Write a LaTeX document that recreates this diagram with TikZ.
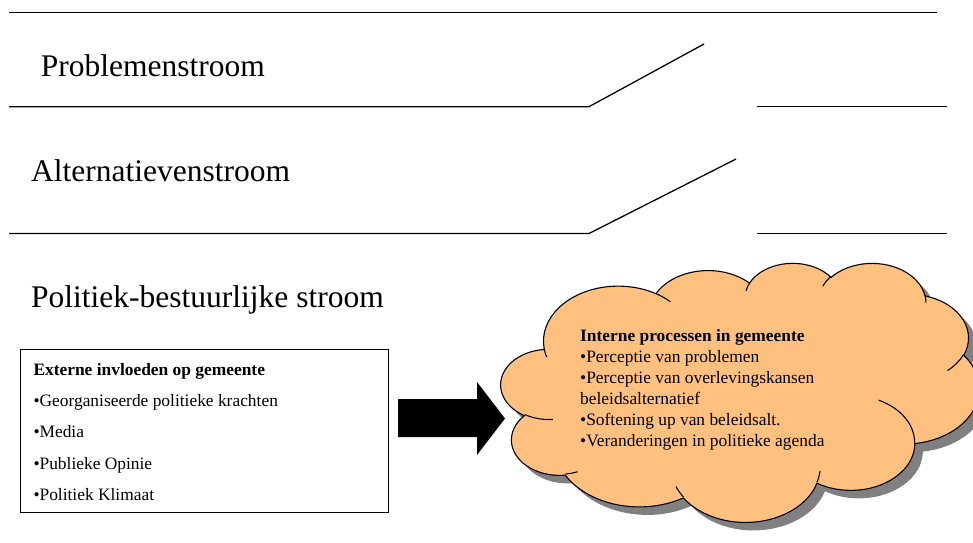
\documentclass[tikz,border=0pt]{standalone}
\usepackage{fontspec}
\setmainfont{Liberation Serif}
\usetikzlibrary{shadows}
\begin{document}
\begin{tikzpicture}[x=1pt,y=-1pt,
  streamline/.style={line width=1.3pt, line join=miter},
  streamtitle/.style={anchor=base west, inner sep=0pt, font=\fontsize{31.5}{36}\selectfont},
  itemtext/.style={anchor=base west, inner sep=0pt, font=\fontsize{17.4}{21}\selectfont},
  headtext/.style={anchor=base west, inner sep=0pt, font=\fontsize{17.4}{21}\selectfont\bfseries},
  cloudline/.style={line width=1.1pt},
  cloudfill/.style={cloudline, fill={rgb,255:red,255;green,192;blue,128},
    drop shadow={shadow xshift=8pt, shadow yshift=-8pt, fill=black!50, opacity=1}},
]
\useasboundingbox (0,0) rectangle (973,542);

% the three streams, each one closed off by a switch
\draw[streamline] (9,12.7) -- (937,12.7);
\node[streamtitle] (probl) at (40.7,76) {Problemenstroom};
\draw[streamline] (9,106.7) -- (589,106.7) -- (704,44);
\draw[streamline] (757,106.7) -- (947,106.7);
\node[streamtitle] (alter) at (31,181.7) {Alternatievenstroom};
\draw[streamline] (9,233.5) -- (589,233.5) -- (736,159);
\draw[streamline] (757,233.5) -- (947,233.5);
\node[streamtitle] (polit) at (31,307) {Politiek-bestuurlijke stroom};

% external influences
\node[draw, line width=1.1pt, inner sep=0pt, anchor=north west,
      minimum width=368pt, minimum height=163pt] (ext) at (20,349) {};
\node[headtext] (exthead) at (33.3,375) {Externe invloeden op gemeente};
\node[itemtext] (ext1) at (33.3,406) {•Georganiseerde politieke krachten};
\node[itemtext] (ext2) at (33.3,437.5) {•Media};
\node[itemtext] (ext3) at (33.3,469) {•Publieke Opinie};
\node[itemtext] (ext4) at (33.3,500.5) {•Politiek Klimaat};

% block arrow
\fill (398,399) -- (477,399) -- (477,382) -- (505,418.5) -- (477,455) -- (477,437) -- (398,437) -- cycle;

% cloud of internal processes (arcs given with visual angles, converted to parametric ones)
\begin{scope}[shift={(501,262.5)}, x=1.1065pt, y=-0.5995pt]
  \draw[cloudfill] (39.00,143.70)
    \foreach \wr/\hr/\st/\sw [evaluate={\sw as \ts using atan2(\wr*sin(\st),\hr*cos(\st))},
        evaluate={\sw as \dd using mod(atan2(\wr*sin(\st+\sw),\hr*cos(\st+\sw))-\ts+720,360)}]
      in {67.53/91.90/-190.4875/123.7805,
          53.33/72.67/-144.1024/89.9452,
          43.65/59.45/-145.8079/99.7230,
          48.57/65.95/-130.9861/117.2417,
          53.33/72.73/-78.7089/109.0269,
          67.75/92.20/-46.2673/130.2690,
          57.85/78.67/0.6250/114.0333,
          67.52/92.15/22.4516/115.1726,
          77.20/105.43/66.2426/75.7110,
          43.60/59.18/-274.9421/146.7356,
          43.45/59.45/-246.8285/152.5189}
    { arc[start angle=\ts, delta angle=\dd, x radius=\wr, y radius=\hr] } -- cycle;
  \draw[cloudline]
    \foreach \px/\py/\wr/\hr/\st/\sw [evaluate={\sw as \ts using atan2(\wr*sin(\st),\hr*cos(\st))},
        evaluate={\sw as \dd using mod(atan2(\wr*sin(\st+\sw),\hr*cos(\st+\sw))-\ts+720,360)}]
      in {46.93/261.77/43.45/59.45/86.7420/26.4295,
          69.28/348.99/43.60/59.18/73.6105/11.4475,
          164.78/390.90/67.52/92.15/137.6242/14.0811,
          288.27/347.51/67.52/92.15/6.4533/15.9984,
          341.29/229.54/57.85/78.67/-70.2924/70.9174,
          417.98/153.54/53.33/72.73/30.3180/27.7515,
          383.24/54.26/48.57/65.95/-13.7443/14.8589,
          290.78/39.52/48.57/65.95/-149.1815/18.1954,
          221.41/47.20/43.65/59.45/-163.4943/17.6864,
          140.00/51.92/67.53/91.90/-66.7070/12.3194,
          41.27/157.89/67.53/91.90/157.6544/11.8582}
    { (\px,\py) arc[start angle=\ts, delta angle=\dd, x radius=\wr, y radius=\hr] };
\end{scope}

\node[headtext] (inthead) at (580,341.5) {Interne processen in gemeente};
\node[itemtext] (int1) at (580,362.4) {•Perceptie van problemen};
\node[itemtext] (int2) at (580,383.3) {•Perceptie van overlevingskansen};
\node[itemtext] (int3) at (580,404.2) {beleidsalternatief};
\node[itemtext] (int4) at (580,425.1) {•Softening up van beleidsalt.};
\node[itemtext] (int5) at (580,446.0) {•Veranderingen in politieke agenda};
\end{tikzpicture}
\end{document}
